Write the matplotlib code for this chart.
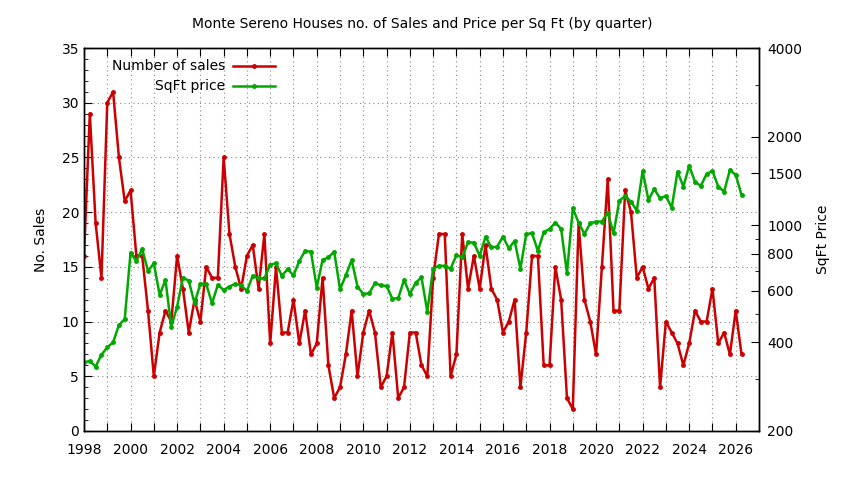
import matplotlib
matplotlib.use('Agg')
import matplotlib.pyplot as plt
import numpy as np
from matplotlib.lines import Line2D
from matplotlib.ticker import NullFormatter

# quarterly data, first quarter of 1998 onwards
start_year = 1998
sales = [16, 29, 19, 14, 30, 31, 25, 21, 22, 16, 16, 11, 5, 9, 11, 10,
         16, 13, 9, 12, 10, 15, 14, 14, 25, 18, 15, 13, 16, 17, 13, 18,
         8, 15, 9, 9, 12, 8, 11, 7, 8, 14, 6, 3, 4, 7, 11, 5,
         9, 11, 9, 4, 5, 9, 3, 4, 9, 9, 6, 5, 14, 18, 18, 5,
         7, 18, 13, 16, 13, 17, 13, 12, 9, 10, 12, 4, 9, 16, 16, 6,
         6, 15, 12, 3, 2, 19, 12, 10, 7, 15, 23, 11, 11, 22, 20, 14,
         15, 13, 14, 4, 10, 9, 8, 6, 8, 11, 10, 10, 13, 8, 9, 7,
         11, 7]
price = [342, 346, 331, 363, 385, 400, 458, 480, 807, 756, 830, 699, 742, 580, 652, 452,
         529, 664, 648, 543, 633, 631, 543, 627, 603, 619, 633, 625, 598, 674, 660, 660,
         735, 742, 673, 710, 675, 756, 818, 813, 614, 762, 778, 813, 606, 676, 762, 619,
         584, 587, 635, 625, 622, 563, 565, 652, 584, 638, 665, 509, 712, 729, 727, 712,
         791, 778, 875, 873, 787, 915, 841, 846, 915, 835, 884, 712, 934, 939, 818, 946,
         971, 1021, 971, 687, 1141, 1021, 934, 1015, 1029, 1029, 1104, 939, 1212, 1257, 1203, 1121,
         1529, 1218, 1328, 1234, 1257, 1147, 1521, 1353, 1590, 1406, 1360, 1494, 1529, 1353, 1301, 1541,
         1482, 1267]

price_ticks = [200, 400, 600, 800, 1000, 1500, 2000, 4000]
price_minor = [300, 500, 700, 900, 3000]

t = start_year + 0.25*np.arange(len(sales))

red = '#cc0000'; green = '#00a800'
plt.rcParams['font.family'] = 'DejaVu Sans'
plt.rcParams['font.size'] = 10

fig = plt.figure(figsize=(8.44, 4.8), dpi=100)
ax = fig.add_axes([84/844, 49/480, 675/844, 383/480])
ax2 = ax.twinx()

ax.plot(t, sales, '-', color=red, lw=1.8, marker='o', ms=2.5)
ax2.plot(t, price, '-', color=green, lw=1.8, marker='o', ms=2.5)

ax.set_xlim(1998, 2027)
ax.set_ylim(0, 35)
years = np.arange(1998, 2027)
ax.set_xticks(years)
ax.set_xticklabels([str(y) if y % 2 == 0 else '' for y in years])
ax.set_yticks(np.arange(0, 36, 5))
ax.set_yticks(np.arange(0, 36, 1), minor=True)
ax.grid(which='major', linestyle=(0, (1, 3)), color='#888888', lw=0.8)
ax.tick_params(which='both', direction='in', top=True, right=False)
ax.tick_params(which='major', length=6)
ax.tick_params(which='minor', length=3)
ax.tick_params(axis='x', which='major', pad=9)

ax2.set_yscale('log')
ax2.set_ylim(200, 4000)
ax2.set_yticks(price_ticks)
ax2.set_yticklabels([str(v) for v in price_ticks])
ax2.set_yticks(price_minor, minor=True)
ax2.yaxis.set_minor_formatter(NullFormatter())
ax2.tick_params(which='both', direction='in')
ax2.tick_params(which='major', length=6, pad=6)
ax2.tick_params(which='minor', length=3)

for a in (ax, ax2):
    for s in a.spines.values():
        s.set_linewidth(1.0)

ax.set_ylabel('No. Sales', labelpad=10)
ax2.set_ylabel('SqFt Price', labelpad=10)
fig.suptitle('Monte Sereno Houses no. of Sales and Price per Sq Ft (by quarter)',
             y=0.965, fontsize=10)

# key, right-aligned text with sample line after it
ax.text(0.209, 0.953, 'Number of sales', transform=ax.transAxes, ha='right', va='center')
ax.text(0.209, 0.901, 'SqFt price', transform=ax.transAxes, ha='right', va='center')
ax.add_line(Line2D([0.221, 0.283], [0.953, 0.953], transform=ax.transAxes,
                   color=red, lw=1.8))
ax.add_line(Line2D([0.252], [0.953], transform=ax.transAxes, color=red,
                   marker='o', ms=2.5))
ax.add_line(Line2D([0.221, 0.283], [0.901, 0.901], transform=ax.transAxes,
                   color=green, lw=1.8))
ax.add_line(Line2D([0.252], [0.901], transform=ax.transAxes, color=green,
                   marker='o', ms=2.5))

fig.savefig('out.png', dpi=100)
